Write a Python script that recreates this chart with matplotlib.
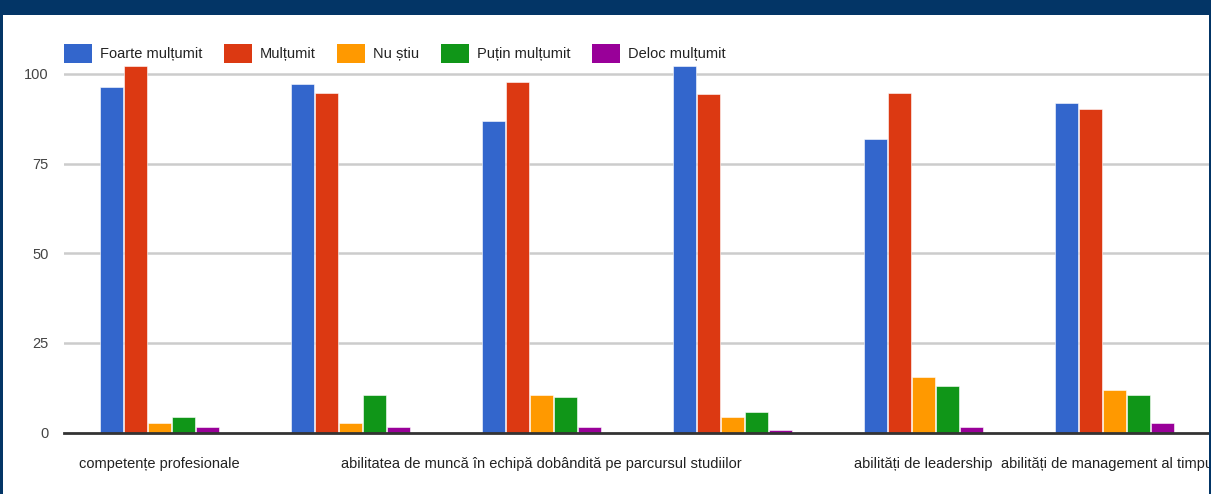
import numpy as np
import matplotlib
matplotlib.use('Agg')
import matplotlib.pyplot as plt
from matplotlib.patches import Rectangle, Patch

plt.rcParams['font.family'] = ['Liberation Sans', 'DejaVu Sans']

categories = ['competențe profesionale', '',
              'abilitatea de muncă în echipă dobândită pe parcursul studiilor', '',
              'abilități de leadership', 'abilități de management al timpului']
series = ['Foarte mulțumit', 'Mulțumit', 'Nu știu', 'Puțin mulțumit', 'Deloc mulțumit']
foarte = [96.4, 97.2, 87.0, 102.2, 82.0, 91.8]
multumit = [102.3, 94.7, 97.8, 94.3, 94.7, 90.1]
nu_stiu = [2.6, 2.6, 10.5, 4.4, 15.5, 11.9]
putin = [4.4, 10.5, 9.8, 5.6, 13.0, 10.5]
deloc = [1.5, 1.5, 1.5, 0.7, 1.5, 2.6]
yticks = [0, 25, 50, 75, 100]

colors = ['#3366cc', '#dc3912', '#ff9900', '#109618', '#990099']
navy = '#033566'
fs = 10.5

W, H = 1211, 494
fig = plt.figure(figsize=(W / 100, H / 100), dpi=100, facecolor=navy)
fig.add_artist(Rectangle((3 / W, 0), 1206 / W, (H - 15) / H, transform=fig.transFigure,
                         facecolor='white', edgecolor='none', zorder=-10))

# axes: x from 64 px to 1210 px, y=0 at 432.5 px, top at 60 px
ax = fig.add_axes([64 / W, (H - 432.5) / H, (1210 - 64) / W, (432.5 - 60) / H])
ax.set_facecolor('none')

x = np.arange(len(categories))
step = 0.1267
width = 0.121
for k, (vals, c) in enumerate(zip([foarte, multumit, nu_stiu, putin, deloc], colors)):
    ax.bar(x + (k - 2) * step, vals, width=width, color=c, edgecolor='white',
           linewidth=0.4, zorder=2)

ax.set_xlim(-0.5, len(categories) - 0.5)
ax.set_ylim(0, 103.9)
ax.set_yticks(yticks)
ax.set_yticklabels([str(v) for v in yticks])
ax.set_xticks(x)
ax.set_xticklabels(categories)
ax.tick_params(axis='y', length=0, pad=11, labelsize=fs, labelcolor='#444444')
ax.tick_params(axis='x', length=0, pad=17.5, labelsize=fs, labelcolor='#222222')
for yv in yticks[1:]:
    ax.axhline(yv, color='#cccccc', lw=1.8, zorder=1)
ax.axhline(0, color='#333333', lw=2, zorder=3, clip_on=False)
for s in ax.spines.values():
    s.set_visible(False)

handles = [Patch(facecolor=c, edgecolor='none') for c in colors]
fig.legend(handles, series, loc='center left', bbox_to_anchor=(64 / W, 1 - 53.5 / H),
           bbox_transform=fig.transFigure, ncol=5, frameon=False, fontsize=fs,
           borderpad=0, borderaxespad=0, handlelength=1.92, handleheight=1.58,
           handletextpad=0.55, columnspacing=1.47, labelcolor='#222222')

# right border on top of clipped text
fig.add_artist(Rectangle((1209 / W, 0), 2 / W, 1, transform=fig.transFigure,
                         facecolor=navy, edgecolor='none', zorder=20))

fig.savefig('out.png', dpi=100, facecolor=navy)
